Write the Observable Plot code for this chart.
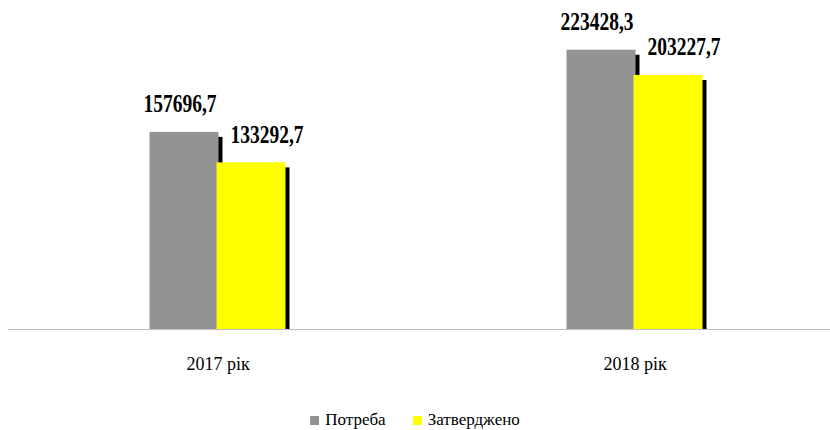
<!DOCTYPE html>
<html>
<head>
<meta charset="utf-8">
<script src="https://cdn.jsdelivr.net/npm/d3@7"></script>
<script src="https://cdn.jsdelivr.net/npm/@observablehq/plot@0.6"></script>
<style>
  body { margin: 0; background: #fff; }
  #chart { width: 830px; }
  .legend { display: flex; justify-content: center; align-items: center; height: 20px; margin-top: 18px;
    font-family: "Liberation Serif", "Times New Roman", Tinos, "DejaVu Serif", serif; font-size: 17px; color: #000; line-height: 20px; }
  .legend .item { display: flex; align-items: center; }
  .legend .sw { width: 9px; height: 9px; margin-right: 6px; }
  .legend .item + .item { margin-left: 27px; }
  svg text { font-family: "Liberation Serif", "Times New Roman", Tinos, "DejaVu Serif", serif !important; }
</style>
</head>
<body>
<div id="chart"></div>
<script>
const years = ["2017 рік", "2018 рік"];
const needValues = [157696.7, 223428.3];      // Потреба
const approvedValues = [133292.7, 203227.7];  // Затверджено
const seriesNames = ["Потреба", "Затверджено"];
const seriesColors = ["#939393", "#ffff00"];

const need = years.map((y, i) => ({year: y, value: needValues[i]}));
const approved = years.map((y, i) => ({year: y, value: approvedValues[i]}));
const fmt = v => v.toFixed(1).replace(".", ",");

const serif = "'Liberation Serif', 'Times New Roman', Tinos, 'DejaVu Serif', serif";

const chart = Plot.plot({
  width: 830,
  height: 392,
  marginLeft: 8,
  marginRight: 0,
  marginTop: 16.5,
  marginBottom: 63,
  style: {fontFamily: serif, background: "#fff"},
  x: {type: "band", domain: years, range: [8.5, 842.5], padding: 0, label: null},
  y: {domain: [0, 250000], axis: null},
  marks: [
    Plot.ruleY([0], {stroke: "#bfbfbf", strokeWidth: 1.2}),
    Plot.barY(need, {x: "year", y: "value", fill: "#000", insetLeft: 140.5, insetRight: 207.5, insetTop: 5, dx: 4}),
    Plot.barY(need, {x: "year", y: "value", fill: seriesColors[0], insetLeft: 140.5, insetRight: 207.5}),
    Plot.barY(approved, {x: "year", y: "value", fill: "#000", insetLeft: 207.5, insetRight: 140.5, insetTop: 5, dx: 4}),
    Plot.barY(approved, {x: "year", y: "value", fill: seriesColors[1], insetLeft: 207.5, insetRight: 140.5}),
    Plot.text(need, {x: "year", y: "value", text: d => fmt(d.value), dx: -38, dy: -20, lineAnchor: "bottom",
      fontSize: 25, fontWeight: "bold", fill: "#000"}),
    Plot.text(approved, {x: "year", y: "value", text: d => fmt(d.value), dx: 49, dy: -20, lineAnchor: "bottom",
      fontSize: 25, fontWeight: "bold", fill: "#000"}),
    Plot.axisX({tickSize: 0, tickPadding: 28, fontSize: 18, fill: "#000"})
  ]
});
document.getElementById("chart").appendChild(chart);

// horizontally condense bold value labels (append scale to existing transform attribute)
d3.select(chart).selectAll("g[aria-label='text'] text").each(function () {
  const t = this.getAttribute("transform") || "";
  this.setAttribute("transform", (t + " scale(0.78,1)").trim());
});

const legend = document.createElement("div");
legend.className = "legend";
seriesNames.forEach((name, i) => {
  const item = document.createElement("div");
  item.className = "item";
  const sw = document.createElement("span");
  sw.className = "sw";
  sw.style.background = seriesColors[i];
  const lab = document.createElement("span");
  lab.textContent = name;
  item.appendChild(sw);
  item.appendChild(lab);
  legend.appendChild(item);
});
document.getElementById("chart").appendChild(legend);
</script>
</body>
</html>
